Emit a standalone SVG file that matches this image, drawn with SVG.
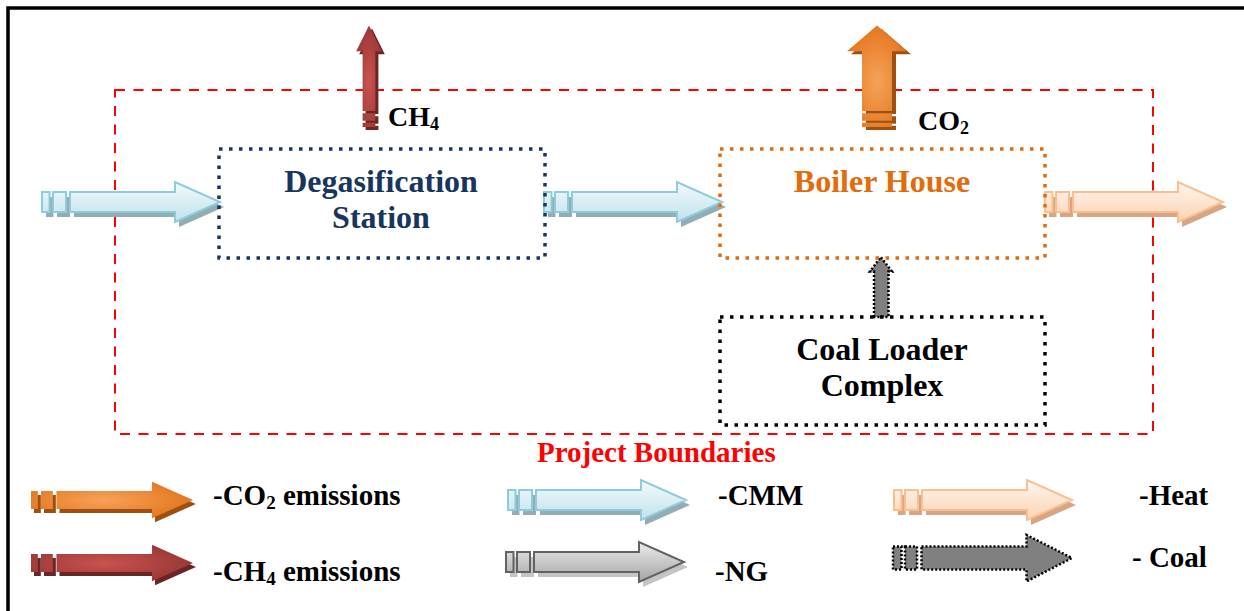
<svg xmlns="http://www.w3.org/2000/svg" xmlns:xlink="http://www.w3.org/1999/xlink" width="1244" height="611" viewBox="0 0 1244 611">
  <style>
    .lbl { font-family: "Liberation Serif", "Times New Roman", serif; font-weight: bold; }
    .node-title { font-size: 32px; text-anchor: middle; }
    .gas { font-size: 28px; fill: #000; }
    .leg { font-size: 29px; fill: #000; }
    .box { fill: none; stroke-width: 3.5; stroke-dasharray: 3.5 6.5; }
  </style>
  <defs>
    <!-- block arrow pointing +x: two tail blocks, shaft and head; 178 long, 40 high -->
    <path id="arr" d="M0,-10 H7.5 V10 H0 Z M11,-10 H24 V10 H11 Z M28,-10 H133 V-20 L178,0 L133,20 V10 H28 Z"/>
    <linearGradient id="gCmm" x1="0" y1="0" x2="0" y2="1">
      <stop offset="0" stop-color="#f3fafc"/>
      <stop offset="1" stop-color="#bfe2eb"/>
    </linearGradient>
    <linearGradient id="gHeat" x1="0" y1="0" x2="0" y2="1">
      <stop offset="0" stop-color="#fff6ef"/>
      <stop offset="1" stop-color="#fbd2b2"/>
    </linearGradient>
    <linearGradient id="gNg" x1="0" y1="0" x2="0" y2="1">
      <stop offset="0" stop-color="#ececec"/>
      <stop offset="1" stop-color="#a4a4a4"/>
    </linearGradient>
    <radialGradient id="gCo2" cx="0.45" cy="0.5" r="0.6">
      <stop offset="0" stop-color="#f6a25a"/>
      <stop offset="1" stop-color="#e2741a"/>
    </radialGradient>
    <radialGradient id="gCh4" cx="0.45" cy="0.5" r="0.6">
      <stop offset="0" stop-color="#c9534f"/>
      <stop offset="1" stop-color="#973634"/>
    </radialGradient>
  </defs>

  <!-- outer frame -->
  <rect x="8" y="8" width="1260" height="640" fill="#fff" stroke="#000" stroke-width="3.5"/>

  <!-- project boundary -->
  <g id="boundary">
    <rect x="115" y="90" width="1038" height="344" fill="none" stroke="#ff0000" stroke-width="2" stroke-dasharray="10 8.5"/>
    <text class="lbl" x="537" y="462" font-size="29" fill="#ff0000">Project Boundaries</text>
  </g>

  <!-- flows -->
  <g id="connectors">
    <!-- CMM into degasification station -->
    <g id="cmm-in">
      <use xlink:href="#arr" transform="translate(46,207)" fill="#93adb4"/>
      <use xlink:href="#arr" transform="translate(42,202)" fill="url(#gCmm)" stroke="#8ecbdb" stroke-width="2"/>
    </g>
    <!-- CMM from degasification station to boiler house -->
    <g id="cmm-mid">
      <use xlink:href="#arr" transform="translate(548,207)" fill="#93adb4"/>
      <use xlink:href="#arr" transform="translate(544,202)" fill="url(#gCmm)" stroke="#8ecbdb" stroke-width="2"/>
    </g>
    <!-- heat out of boiler house -->
    <g id="heat-out">
      <use xlink:href="#arr" transform="translate(1049,207)" fill="#d6a586"/>
      <use xlink:href="#arr" transform="translate(1045,202)" fill="url(#gHeat)" stroke="#f9bf91" stroke-width="2"/>
    </g>
    <!-- CH4 released from degasification station -->
    <g id="ch4-up">
      <use xlink:href="#arr" transform="translate(372,130) rotate(-90) scale(0.57,0.64)" fill="#6a2624"/>
      <use xlink:href="#arr" transform="translate(369,127) rotate(-90) scale(0.57,0.64)" fill="url(#gCh4)"/>
    </g>
    <!-- CO2 released from boiler house -->
    <g id="co2-up">
      <use xlink:href="#arr" transform="translate(881,130) rotate(-90) scale(0.57,1.5)" fill="#9e4f12"/>
      <use xlink:href="#arr" transform="translate(877,127) rotate(-90) scale(0.57,1.5)" fill="url(#gCo2)"/>
    </g>
    <!-- coal from loader complex to boiler house -->
    <path id="coal-up" d="M874,317 V271.5 H870 L880.7,257 L892,271.5 H888.5 V317 Z" fill="#808080" stroke="#000" stroke-width="2.5" stroke-dasharray="2 2"/>
  </g>

  <!-- nodes -->
  <g id="degasification">
    <rect class="box" x="219" y="149" width="326" height="109" stroke="#17365d"/>
    <text class="lbl node-title" x="381" y="192" fill="#17365d">Degasification</text>
    <text class="lbl node-title" x="381" y="228" fill="#17365d">Station</text>
  </g>
  <g id="boiler-house">
    <rect class="box" x="720" y="149" width="325" height="109" stroke="#e36c0a"/>
    <text class="lbl node-title" x="882" y="192" fill="#e36c0a">Boiler House</text>
  </g>
  <g id="coal-loader">
    <rect class="box" x="720" y="317" width="325" height="108" stroke="#000"/>
    <text class="lbl node-title" x="882" y="360" fill="#000">Coal Loader</text>
    <text class="lbl node-title" x="882" y="396" fill="#000">Complex</text>
  </g>

  <!-- gas labels -->
  <g id="gas-labels">
    <text class="lbl gas" x="388" y="126">CH<tspan font-size="18" dy="4">4</tspan></text>
    <text class="lbl gas" x="918" y="130">CO<tspan font-size="18" dy="4">2</tspan></text>
  </g>

  <!-- legend -->
  <g id="legend">
    <g id="leg-co2">
      <use xlink:href="#arr" transform="translate(34,504) scale(0.91)" fill="#9e4f12"/>
      <use xlink:href="#arr" transform="translate(31,500) scale(0.91)" fill="url(#gCo2)"/>
      <text class="lbl leg" x="213" y="505">-CO<tspan font-size="19" dy="4">2</tspan><tspan dy="-4"> emissions</tspan></text>
    </g>
    <g id="leg-ch4">
      <use xlink:href="#arr" transform="translate(34,567) scale(0.91)" fill="#6a2624"/>
      <use xlink:href="#arr" transform="translate(31,563) scale(0.91)" fill="url(#gCh4)"/>
      <text class="lbl leg" x="213" y="581">-CH<tspan font-size="19" dy="4">4</tspan><tspan dy="-4"> emissions</tspan></text>
    </g>
    <g id="leg-cmm">
      <use xlink:href="#arr" transform="translate(512,505)" fill="#93adb4"/>
      <use xlink:href="#arr" transform="translate(508,500)" fill="url(#gCmm)" stroke="#8ecbdb" stroke-width="2"/>
      <text class="lbl leg" x="718" y="505">-CMM</text>
    </g>
    <g id="leg-ng">
      <use xlink:href="#arr" transform="translate(510,567)" fill="#c4c4c4"/>
      <use xlink:href="#arr" transform="translate(506,562)" fill="url(#gNg)" stroke="#626262" stroke-width="2"/>
      <text class="lbl leg" x="715" y="581">-NG</text>
    </g>
    <g id="leg-heat">
      <use xlink:href="#arr" transform="translate(898,505)" fill="#d6a586"/>
      <use xlink:href="#arr" transform="translate(894,500)" fill="url(#gHeat)" stroke="#f9bf91" stroke-width="2"/>
      <text class="lbl leg" x="1139" y="505">-Heat</text>
    </g>
    <g id="leg-coal">
      <path d="M893,546.5 H901.5 V569.5 H893 Z M905,546.5 H917 V569.5 H905 Z M921.5,546.5 H1026.5 V535 L1072,558 L1026.5,581.5 V569.5 H921.5 Z" fill="#808080" stroke="#000" stroke-width="2.5" stroke-dasharray="2 2"/>
      <text class="lbl leg" x="1132" y="567">- Coal</text>
    </g>
  </g>
</svg>
